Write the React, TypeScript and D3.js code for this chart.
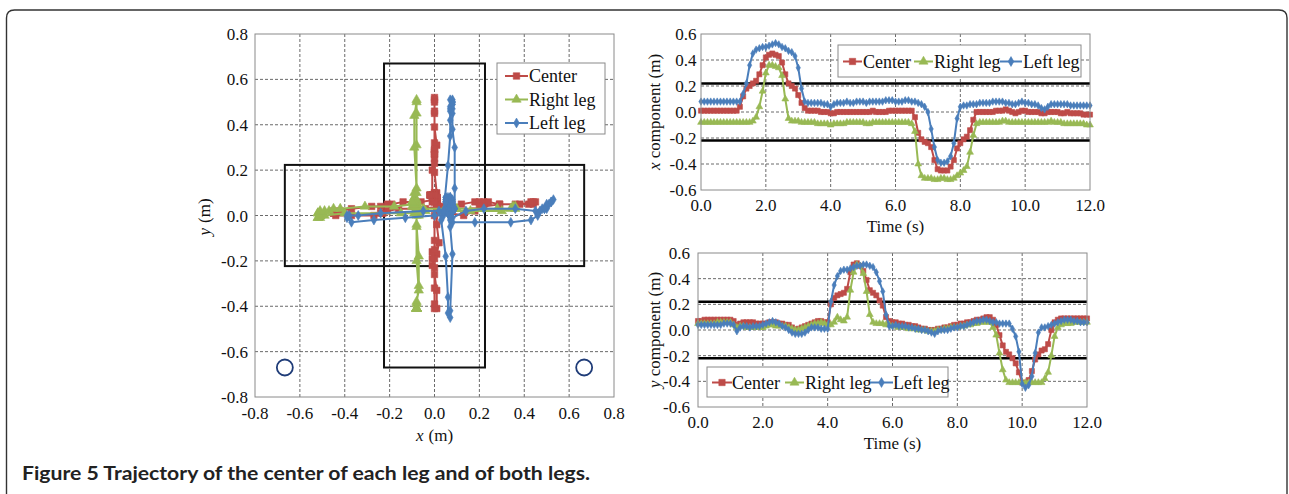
import React from "react";
import * as d3 from "d3";

// ---------- data (sampled every 0.1 s, 0.0 .. 12.0 s) ----------
const TIME = d3.range(121).map((i) => i / 10);

const X_CENTER = [
  0.01, 0.01, 0.01, 0.01, 0.01, 0.01, 0.01, 0.01, 0.01, 0.01,
  0.01, 0.01, 0.04, 0.12, 0.18, 0.2, 0.22, 0.24, 0.29, 0.36,
  0.42, 0.44, 0.45, 0.44, 0.43, 0.38, 0.29, 0.22, 0.2, 0.18,
  0.13, 0.07, 0.03, 0.01, 0.01, 0.01, 0.01, 0.0, 0.0, 0.0,
  -0.01, -0.01, 0.0, 0.0, 0.0, 0.0, 0.0, 0.0, 0.0, 0.0,
  0.0, 0.0, 0.0, 0.01, 0.0, 0.0, 0.0, 0.0, 0.01, 0.01,
  0.01, 0.01, 0.01, 0.01, 0.01, 0.01, -0.04, -0.16, -0.21, -0.23,
  -0.24, -0.27, -0.37, -0.44, -0.45, -0.45, -0.45, -0.42, -0.37, -0.28,
  -0.24, -0.21, -0.19, -0.14, -0.06, 0.0, 0.0, 0.0, 0.0, 0.0,
  0.0, 0.01, 0.01, 0.01, 0.02, 0.01, 0.0, -0.01, 0.0, 0.01,
  0.01, 0.0, 0.0, 0.0, 0.0, -0.01, -0.01, 0.0, 0.0, 0.0,
  0.0, -0.01, -0.01, 0.0, -0.01, -0.01, -0.01, -0.01, -0.02, -0.02,
  -0.02,
];

const X_RIGHT = [
  -0.08, -0.08, -0.08, -0.08, -0.08, -0.08, -0.08, -0.08, -0.08, -0.08,
  -0.08, -0.08, -0.08, -0.08, -0.08, -0.08, -0.07, -0.04, 0.04, 0.16,
  0.3, 0.36, 0.36, 0.35, 0.34, 0.28, 0.1, -0.05, -0.07, -0.07,
  -0.07, -0.08, -0.08, -0.08, -0.08, -0.08, -0.09, -0.09, -0.09, -0.09,
  -0.1, -0.09, -0.09, -0.09, -0.09, -0.08, -0.08, -0.08, -0.08, -0.08,
  -0.08, -0.09, -0.09, -0.08, -0.08, -0.08, -0.08, -0.08, -0.08, -0.08,
  -0.08, -0.08, -0.08, -0.08, -0.08, -0.09, -0.15, -0.4, -0.49, -0.51,
  -0.51, -0.51, -0.52, -0.52, -0.51, -0.51, -0.52, -0.52, -0.51, -0.49,
  -0.47, -0.45, -0.42, -0.31, -0.18, -0.09, -0.08, -0.08, -0.08, -0.08,
  -0.08, -0.08, -0.08, -0.07, -0.07, -0.08, -0.08, -0.08, -0.08, -0.08,
  -0.08, -0.08, -0.08, -0.08, -0.08, -0.08, -0.08, -0.08, -0.07, -0.08,
  -0.08, -0.08, -0.09, -0.09, -0.09, -0.09, -0.09, -0.09, -0.09, -0.1,
  -0.1,
];

const X_LEFT = [
  0.08, 0.08, 0.08, 0.08, 0.08, 0.08, 0.08, 0.08, 0.08, 0.08,
  0.08, 0.08, 0.08, 0.14, 0.22, 0.36, 0.45, 0.48, 0.49, 0.5,
  0.5, 0.51, 0.52, 0.53, 0.52, 0.5, 0.49, 0.47, 0.46, 0.43,
  0.34, 0.18, 0.08, 0.07, 0.07, 0.07, 0.07, 0.07, 0.06, 0.06,
  0.04, 0.06, 0.07, 0.07, 0.07, 0.08, 0.07, 0.07, 0.08, 0.08,
  0.08, 0.07, 0.08, 0.08, 0.08, 0.08, 0.08, 0.09, 0.09, 0.09,
  0.08, 0.08, 0.08, 0.09, 0.09, 0.08, 0.08, 0.07, 0.06, 0.04,
  0.0, -0.13, -0.27, -0.37, -0.39, -0.39, -0.38, -0.34, -0.24, -0.05,
  0.04, 0.05, 0.05, 0.06, 0.06, 0.06, 0.07, 0.07, 0.07, 0.07,
  0.08, 0.08, 0.08, 0.08, 0.07, 0.07, 0.06, 0.06, 0.07, 0.08,
  0.07, 0.07, 0.06, 0.06, 0.05, 0.03, 0.02, 0.04, 0.06, 0.06,
  0.06, 0.06, 0.06, 0.06, 0.05, 0.05, 0.05, 0.05, 0.05, 0.05,
  0.05,
];

const Y_CENTER = [
  0.07, 0.07, 0.08, 0.08, 0.08, 0.08, 0.08, 0.08, 0.08, 0.08,
  0.08, 0.07, 0.04, 0.05, 0.06, 0.06, 0.06, 0.06, 0.05, 0.05,
  0.05, 0.05, 0.06, 0.06, 0.06, 0.05, 0.05, 0.04, 0.04, 0.02,
  0.0, 0.01, 0.02, 0.03, 0.04, 0.05, 0.06, 0.07, 0.07, 0.06,
  0.06, 0.2, 0.25, 0.27, 0.28, 0.29, 0.32, 0.45, 0.51, 0.52,
  0.5, 0.46, 0.39, 0.31, 0.29, 0.27, 0.23, 0.19, 0.1, 0.07,
  0.06, 0.06, 0.05, 0.05, 0.04, 0.04, 0.03, 0.03, 0.02, 0.01,
  0.01, 0.0, 0.0, 0.0, 0.01, 0.01, 0.02, 0.02, 0.03, 0.04,
  0.04, 0.05, 0.05, 0.06, 0.06, 0.07, 0.08, 0.08, 0.09, 0.1,
  0.1, 0.08, 0.04, -0.04, -0.12, -0.17, -0.19, -0.22, -0.26, -0.33,
  -0.41, -0.41, -0.39, -0.32, -0.23, -0.19, -0.16, -0.15, -0.11, 0.0,
  0.06, 0.08, 0.09, 0.09, 0.09, 0.09, 0.09, 0.09, 0.09, 0.09,
  0.09,
];

const Y_RIGHT = [
  0.05, 0.05, 0.05, 0.05, 0.05, 0.05, 0.06, 0.06, 0.06, 0.06,
  0.06, 0.04, 0.02, 0.03, 0.03, 0.02, 0.02, 0.02, 0.02, 0.02,
  0.02, 0.03, 0.04, 0.04, 0.03, 0.03, 0.03, 0.03, 0.02, 0.01,
  0.0, 0.0, 0.01, 0.02, 0.03, 0.04, 0.05, 0.05, 0.06, 0.05,
  0.04, 0.04, 0.06, 0.1, 0.08, 0.07, 0.1, 0.31, 0.45, 0.51,
  0.5, 0.44, 0.3, 0.12, 0.06, 0.05, 0.05, 0.05, 0.04, 0.04,
  0.03, 0.03, 0.02, 0.02, 0.02, 0.01, 0.01, 0.01, 0.0, 0.0,
  0.0, -0.01, -0.01, -0.01, 0.0, 0.0, 0.01, 0.01, 0.02, 0.02,
  0.02, 0.03, 0.03, 0.04, 0.04, 0.05, 0.05, 0.06, 0.06, 0.06,
  0.06, 0.02, -0.04, -0.18, -0.31, -0.39, -0.41, -0.41, -0.41, -0.41,
  -0.41, -0.41, -0.41, -0.41, -0.41, -0.41, -0.41, -0.38, -0.33, -0.2,
  -0.05, 0.02, 0.04, 0.05, 0.05, 0.05, 0.06, 0.06, 0.06, 0.06,
  0.06,
];

const Y_LEFT = [
  0.04, 0.04, 0.04, 0.04, 0.04, 0.04, 0.04, 0.04, 0.05, 0.05,
  0.05, 0.04, -0.01, 0.02, 0.03, 0.03, 0.02, 0.03, 0.03, 0.03,
  0.04, 0.05, 0.06, 0.07, 0.06, 0.05, 0.03, 0.02, 0.0, -0.02,
  -0.03, -0.03, -0.03, -0.02, 0.0, 0.02, 0.02, 0.02, 0.01, 0.01,
  0.01, 0.22, 0.35, 0.42, 0.46, 0.47, 0.47, 0.48, 0.49, 0.5,
  0.5, 0.51, 0.51, 0.5, 0.49, 0.45, 0.38, 0.3, 0.12, 0.03,
  0.03, 0.04, 0.03, 0.03, 0.03, 0.02, 0.02, 0.01, 0.01, 0.0,
  0.0, -0.01, -0.02, -0.03, -0.01, 0.0, 0.0, 0.0, 0.01, 0.02,
  0.02, 0.03, 0.03, 0.04, 0.05, 0.06, 0.07, 0.07, 0.08, 0.08,
  0.07, 0.06, 0.06, 0.05, 0.05, 0.05, 0.05, 0.01, -0.05, -0.17,
  -0.42, -0.45, -0.43, -0.36, -0.18, -0.02, 0.02, 0.02, 0.03, 0.04,
  0.05, 0.06, 0.07, 0.08, 0.08, 0.08, 0.07, 0.07, 0.06, 0.06,
  0.06,
];

const SERIES_NAMES = ["Center", "Right leg", "Left leg"];
const X_SERIES = [X_CENTER, X_RIGHT, X_LEFT];
const Y_SERIES = [Y_CENTER, Y_RIGHT, Y_LEFT];

const TIME_TICKS = [0, 2, 4, 6, 8, 10, 12];
const COMP_TICKS = [-0.6, -0.4, -0.2, 0, 0.2, 0.4, 0.6];
const POS_TICKS = [-0.8, -0.6, -0.4, -0.2, 0, 0.2, 0.4, 0.6, 0.8];
const THRESHOLDS = [0.22, -0.22];
// boundary rectangles of the cross [x0, x1, y0, y1]
const CROSS_RECTS = [
  [-0.667, 0.667, -0.223, 0.223],
  [-0.225, 0.225, -0.67, 0.67],
];
// obstacle circles [x, y]
const OBSTACLES = [
  [-0.667, -0.67],
  [0.667, -0.67],
];

// ---------- styles ----------
const COLORS = ["#BE4B48", "#98B954", "#4A7EBB"];
const SHAPES = [d3.symbolSquare, d3.symbolTriangle, d3.symbolDiamond];
const SERIF = "'Liberation Serif', 'Times New Roman', serif";
const GRID = { stroke: "#444", strokeWidth: 0.8, strokeDasharray: "3,2" };
const fmt = (v: number) => (Math.abs(v) < 1e-9 ? 0 : v).toFixed(1);

function Marker({ i, x, y, size }: { i: number; x: number; y: number; size: number }) {
  const d = d3.symbol().type(SHAPES[i]).size(size)() as string;
  return <path d={d} transform={`translate(${x},${y})`} fill={COLORS[i]} stroke={COLORS[i]} strokeWidth={0.6} />;
}

function LegendItem({ i, x0, x1, tx, y, size }: any) {
  return (
    <g>
      <line x1={x0} x2={x1} y1={y} y2={y} stroke={COLORS[i]} strokeWidth={2} />
      <Marker i={i} x={(x0 + x1) / 2} y={y} size={size} />
      <text x={tx} y={y + 6} fontSize={18} fontFamily={SERIF} fill="#111">
        {SERIES_NAMES[i]}
      </text>
    </g>
  );
}

function TimeChart(props: any) {
  const { left, right, top, bottom, series, varName, tickEnd, xTickBase, titleBase, legend } = props;
  const x = d3.scaleLinear().domain([0, 12]).range([left, right]);
  const y = d3.scaleLinear().domain([-0.6, 0.6]).range([bottom, top]);
  const line = d3
    .line<number>()
    .x((_, k) => x(TIME[k]))
    .y((v) => y(v));
  const cy = (top + bottom) / 2;
  return (
    <g>
      <rect x={left} y={top} width={right - left} height={bottom - top} fill="#fff" />
      {TIME_TICKS.slice(1, -1).map((t) => (
        <line key={"vx" + t} x1={x(t)} x2={x(t)} y1={top} y2={bottom} {...GRID} />
      ))}
      {COMP_TICKS.slice(1, -1).map((v) => (
        <line key={"hy" + v} x1={left} x2={right} y1={y(v)} y2={y(v)} {...GRID} />
      ))}
      {THRESHOLDS.map((v) => (
        <line key={"th" + v} x1={left} x2={right} y1={y(v)} y2={y(v)} stroke="#000" strokeWidth={2.5} />
      ))}
      {series.map((s: number[], i: number) => (
        <g key={"s" + i}>
          <path d={line(s) as string} fill="none" stroke={COLORS[i]} strokeWidth={2} />
          {s.map((v, k) => (
            <Marker key={k} i={i} x={x(TIME[k])} y={y(v)} size={i === 0 ? 26 : i === 1 ? 20 : 16} />
          ))}
        </g>
      ))}
      <rect x={left} y={top} width={right - left} height={bottom - top} fill="none" stroke="#8a8a8a" strokeWidth={1} />
      {COMP_TICKS.map((v) => (
        <text key={"yl" + v} x={tickEnd} y={y(v) + 6} textAnchor="end" fontSize={17} fontFamily={SERIF} fill="#111">
          {fmt(v)}
        </text>
      ))}
      {TIME_TICKS.map((t) => (
        <text key={"xl" + t} x={x(t)} y={xTickBase} textAnchor="middle" fontSize={17} fontFamily={SERIF} fill="#111">
          {fmt(t)}
        </text>
      ))}
      <text x={(left + right) / 2} y={titleBase} textAnchor="middle" fontSize={17} fontFamily={SERIF} fill="#111">
        Time (s)
      </text>
      <text
        transform={`translate(660,${cy}) rotate(-90)`}
        textAnchor="middle"
        fontSize={17}
        fontFamily={SERIF}
        fill="#111"
      >
        <tspan fontStyle="italic">{varName}</tspan>
        <tspan> component (m)</tspan>
      </text>
      <rect x={legend.box[0]} y={legend.box[1]} width={legend.box[2]} height={legend.box[3]} fill="#fff" stroke="#8a8a8a" strokeWidth={1} />
      {legend.items.map((it: number[], i: number) => (
        <LegendItem key={i} i={i} x0={it[0]} x1={it[1]} tx={it[2]} y={legend.y} size={i === 0 ? 40 : i === 1 ? 36 : 28} />
      ))}
    </g>
  );
}

function TrajectoryChart() {
  const left = 255, right = 614, top = 34, bottom = 397;
  const x = d3.scaleLinear().domain([-0.8, 0.8]).range([left, right]);
  const y = d3.scaleLinear().domain([-0.8, 0.8]).range([bottom, top]);
  const line = (xs: number[], ys: number[]) =>
    d3
      .line<number>()
      .x((v) => x(v))
      .y((_, k) => y(ys[k]))(xs) as string;
  return (
    <g>
      {POS_TICKS.slice(1, -1).map((v) => (
        <g key={"g" + v}>
          <line x1={x(v)} x2={x(v)} y1={top} y2={bottom} {...GRID} />
          <line x1={left} x2={right} y1={y(v)} y2={y(v)} {...GRID} />
        </g>
      ))}
      {CROSS_RECTS.map((r, k) => (
        <rect
          key={"r" + k}
          x={x(r[0])}
          y={y(r[3])}
          width={x(r[1]) - x(r[0])}
          height={y(r[2]) - y(r[3])}
          fill="none"
          stroke="#111"
          strokeWidth={2}
        />
      ))}
      {OBSTACLES.map((c, k) => (
        <circle key={"c" + k} cx={x(c[0])} cy={y(c[1])} r={8} fill="none" stroke="#1F3C78" strokeWidth={1.8} />
      ))}
      {X_SERIES.map((xs, i) => (
        <g key={"t" + i}>
          <path d={line(xs, Y_SERIES[i])} fill="none" stroke={COLORS[i]} strokeWidth={2} />
          {xs.map((v, k) => (
            <Marker key={k} i={i} x={x(v)} y={y(Y_SERIES[i][k])} size={i === 0 ? 42 : i === 1 ? 38 : 28} />
          ))}
        </g>
      ))}
      <rect x={left} y={top} width={right - left} height={bottom - top} fill="none" stroke="#8a8a8a" strokeWidth={1} />
      {POS_TICKS.map((v) => (
        <text key={"yl" + v} x={248} y={y(v) + 6} textAnchor="end" fontSize={17} fontFamily={SERIF} fill="#111">
          {fmt(v)}
        </text>
      ))}
      {POS_TICKS.map((v) => (
        <text key={"xl" + v} x={x(v)} y={419} textAnchor="middle" fontSize={17} fontFamily={SERIF} fill="#111">
          {fmt(v)}
        </text>
      ))}
      <text x={x(0)} y={441} textAnchor="middle" fontSize={17} fontFamily={SERIF} fill="#111">
        <tspan fontStyle="italic">x</tspan>
        <tspan dx={5}>(m)</tspan>
      </text>
      <text transform={`translate(210,217) rotate(-90)`} textAnchor="middle" fontSize={17} fontFamily={SERIF} fill="#111">
        <tspan fontStyle="italic">y</tspan>
        <tspan dx={5}>(m)</tspan>
      </text>
      <rect x={497} y={63} width={108} height={71} fill="#fff" stroke="#8a8a8a" strokeWidth={1} />
      {SERIES_NAMES.map((_, i) => (
        <LegendItem key={i} i={i} x0={505} x1={528} tx={529} y={76 + i * 23.5} size={i === 0 ? 42 : i === 1 ? 38 : 28} />
      ))}
    </g>
  );
}

export default function App() {
  return (
    <svg width={1289} height={494} style={{ position: "absolute", left: 0, top: 0, background: "#fff" }}>
      <rect x={0} y={0} width={1289} height={494} fill="#fff" />
      <path d="M6.5,494 V18 Q6.5,10 14.5,10 H1279 Q1287,10 1287,18 V494" fill="none" stroke="#333" strokeWidth={1.4} />
      <TrajectoryChart />
      <TimeChart
        left={701}
        right={1090}
        top={34}
        bottom={190}
        series={X_SERIES}
        varName="x"
        tickEnd={696.5}
        xTickBase={211}
        titleBase={232}
        legend={{
          box: [838, 45, 243, 32],
          y: 61.5,
          items: [
            [843, 862, 863],
            [914, 933, 934],
            [1000, 1022, 1023],
          ],
        }}
      />
      <TimeChart
        left={698}
        right={1087}
        top={253}
        bottom={407}
        series={Y_SERIES}
        varName="y"
        tickEnd={690}
        xTickBase={428}
        titleBase={449}
        legend={{
          box: [707, 367, 241, 30],
          y: 382.5,
          items: [
            [712, 732, 732],
            [785, 804, 805],
            [870, 893, 893],
          ],
        }}
      />
      <text
        x={22}
        y={480}
        fontSize={19}
        fontWeight="bold"
        fontFamily="Lato, 'Open Sans', sans-serif"
        fill="#222"
        textLength={568}
        lengthAdjust="spacingAndGlyphs"
      >
        Figure 5 Trajectory of the center of each leg and of both legs.
      </text>
    </svg>
  );
}
